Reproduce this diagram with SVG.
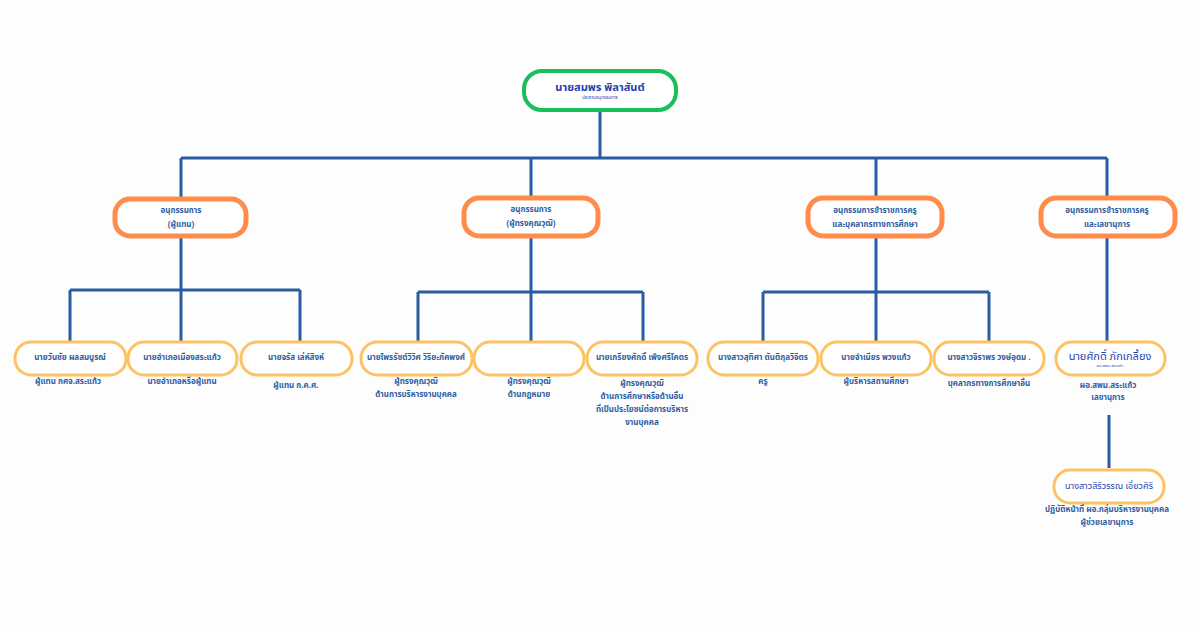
<svg xmlns="http://www.w3.org/2000/svg" width="1200" height="630" viewBox="0 0 1200 630">
<style>
.t{font-family:"Noto Sans Thai","Noto Sans","DejaVu Sans","Liberation Sans",sans-serif;text-anchor:middle;dominant-baseline:central;fill:#2F5DA3;font-weight:bold;font-size:8px}
.n{fill:#1F3FAE}
.root{fill:#fff;stroke:#16C05A;stroke-width:4}
.l2{fill:#fff;stroke:#FF8C4A;stroke-width:5}
.l3{fill:#fff;stroke:#FFC261;stroke-width:3}
.c{fill:none;stroke:#2A5D9F;stroke-width:3}
</style>
<rect width="1200" height="630" fill="#fdfdfd"/>
<g id="connectors">
<path class="c" d="M600 110V158M181 158H1107M181 158V198M531 158V197M876 158V197M1107 158V197"/>
<path class="c" d="M181 236V290M70 290H300M70 290V342M181 290V342M300 290V342"/>
<path class="c" d="M531 236V292M418 292H643M418 292V342M531 292V342M643 292V342"/>
<path class="c" d="M876 236V292M763 292H989M763 292V342M876 292V342M989 292V342"/>
<path class="c" d="M1107 236V342M1109 415V468"/>
</g>
<g id="root">
<rect class="root" x="524" y="71" width="152" height="39" rx="18"/>
<text class="t n" x="600" y="87" style="font-size:11px">นายสมพร พิลาสันต์</text>
<text class="t n" x="600" y="97" style="font-size:4.5px;font-weight:normal">ประธานอนุกรรมการ</text>
</g>
<g id="c1">
<rect class="l2" x="115" y="199" width="131" height="37" rx="15"/>
<text class="t" x="181" y="211">อนุกรรมการ</text>
<text class="t" x="181" y="225">(ผู้แทน)</text>
</g>
<g id="c2">
<rect class="l2" x="464" y="198" width="134" height="38" rx="15"/>
<text class="t" x="531" y="210">อนุกรรมการ</text>
<text class="t" x="531" y="224">(ผู้ทรงคุณวุฒิ)</text>
</g>
<g id="c3">
<rect class="l2" x="808" y="198" width="134" height="38" rx="15"/>
<text class="t" x="875" y="211">อนุกรรมการข้าราชการครู</text>
<text class="t" x="875" y="225">และบุคลากรทางการศึกษา</text>
</g>
<g id="c4">
<rect class="l2" x="1041" y="198" width="134" height="38" rx="15"/>
<text class="t" x="1107" y="211">อนุกรรมการข้าราชการครู</text>
<text class="t" x="1107" y="225">และเลขานุการ</text>
</g>
<g id="p1">
<rect class="l3" x="15" y="342" width="111" height="33" rx="16"/>
<text class="t" x="70" y="358">นายวันชัย ผลสมบูรณ์</text>
<text class="t" x="68" y="382">ผู้แทน กศจ.สระแก้ว</text>
</g>
<g id="p2">
<rect class="l3" x="128" y="342" width="109" height="33" rx="16"/>
<text class="t" x="182" y="358">นายอำเภอเมืองสระแก้ว</text>
<text class="t" x="182" y="382">นายอำเภอหรือผู้แทน</text>
</g>
<g id="p3">
<rect class="l3" x="241" y="342" width="111" height="33" rx="16"/>
<text class="t" x="296" y="358">นายจรัส เล่ห์สิงห์</text>
<text class="t" x="296" y="386">ผู้แทน ก.ค.ศ.</text>
</g>
<g id="p4">
<rect class="l3" x="361" y="342" width="111" height="33" rx="16"/>
<text class="t" x="416" y="358">นายไพรรัชต์วิวิศ วิริยะภัคพงศ์</text>
<text class="t" x="416" y="382">ผู้ทรงคุณวุฒิ</text>
<text class="t" x="416" y="395">ด้านการบริหารงานบุคคล</text>
</g>
<g id="p5">
<rect class="l3" x="474" y="342" width="110" height="33" rx="16"/>
<text class="t" x="529" y="382">ผู้ทรงคุณวุฒิ</text>
<text class="t" x="529" y="395">ด้านกฎหมาย</text>
</g>
<g id="p6">
<rect class="l3" x="587" y="342" width="110" height="33" rx="16"/>
<text class="t" x="642" y="358">นายเกรียงศักดิ์ เพ็งศรีโคตร</text>
<text class="t" x="642" y="384">ผู้ทรงคุณวุฒิ</text>
<text class="t" x="642" y="397">ด้านการศึกษาหรือด้านอื่น</text>
<text class="t" x="642" y="410">ที่เป็นประโยชน์ต่อการบริหาร</text>
<text class="t" x="642" y="423">งานบุคคล</text>
</g>
<g id="p7">
<rect class="l3" x="708" y="342" width="110" height="33" rx="16"/>
<text class="t" x="763" y="358">นางสาวสุทิศา ตันติกุลวิจิตร</text>
<text class="t" x="763" y="382">ครู</text>
</g>
<g id="p8">
<rect class="l3" x="821" y="342" width="110" height="33" rx="16"/>
<text class="t" x="876" y="358">นายจำเนียร พวงแก้ว</text>
<text class="t" x="876" y="382">ผู้บริหารสถานศึกษา</text>
</g>
<g id="p9">
<rect class="l3" x="934" y="342" width="110" height="33" rx="16"/>
<text class="t" x="989" y="358">นางสาวจิราพร วงษ์อุดม .</text>
<text class="t" x="989" y="384">บุคลากรทางการศึกษาอื่น</text>
</g>
<g id="p10">
<rect class="l3" x="1056" y="342" width="109" height="33" rx="16"/>
<text class="t n" x="1110" y="356" style="font-size:11px;font-weight:normal">นายศักดิ์ ภักเกลี้ยง</text>
<text class="t n" x="1110" y="366" style="font-size:4px;font-weight:normal">ผอ.สพม.สระแก้ว</text>
<text class="t" x="1108" y="386">ผอ.สพม.สระแก้ว</text>
<text class="t" x="1108" y="398">เลขานุการ</text>
</g>
<g id="p11">
<rect class="l3" x="1054" y="470" width="110" height="33" rx="16"/>
<text class="t n" x="1109" y="486" style="font-size:9px;font-weight:normal">นางสาวสิริวรรณ เอี่ยวศิริ</text>
<text class="t" x="1107" y="510">ปฏิบัติหน้าที่ ผอ.กลุ่มบริหารงานบุคคล</text>
<text class="t" x="1107" y="523">ผู้ช่วยเลขานุการ</text>
</g>
</svg>
